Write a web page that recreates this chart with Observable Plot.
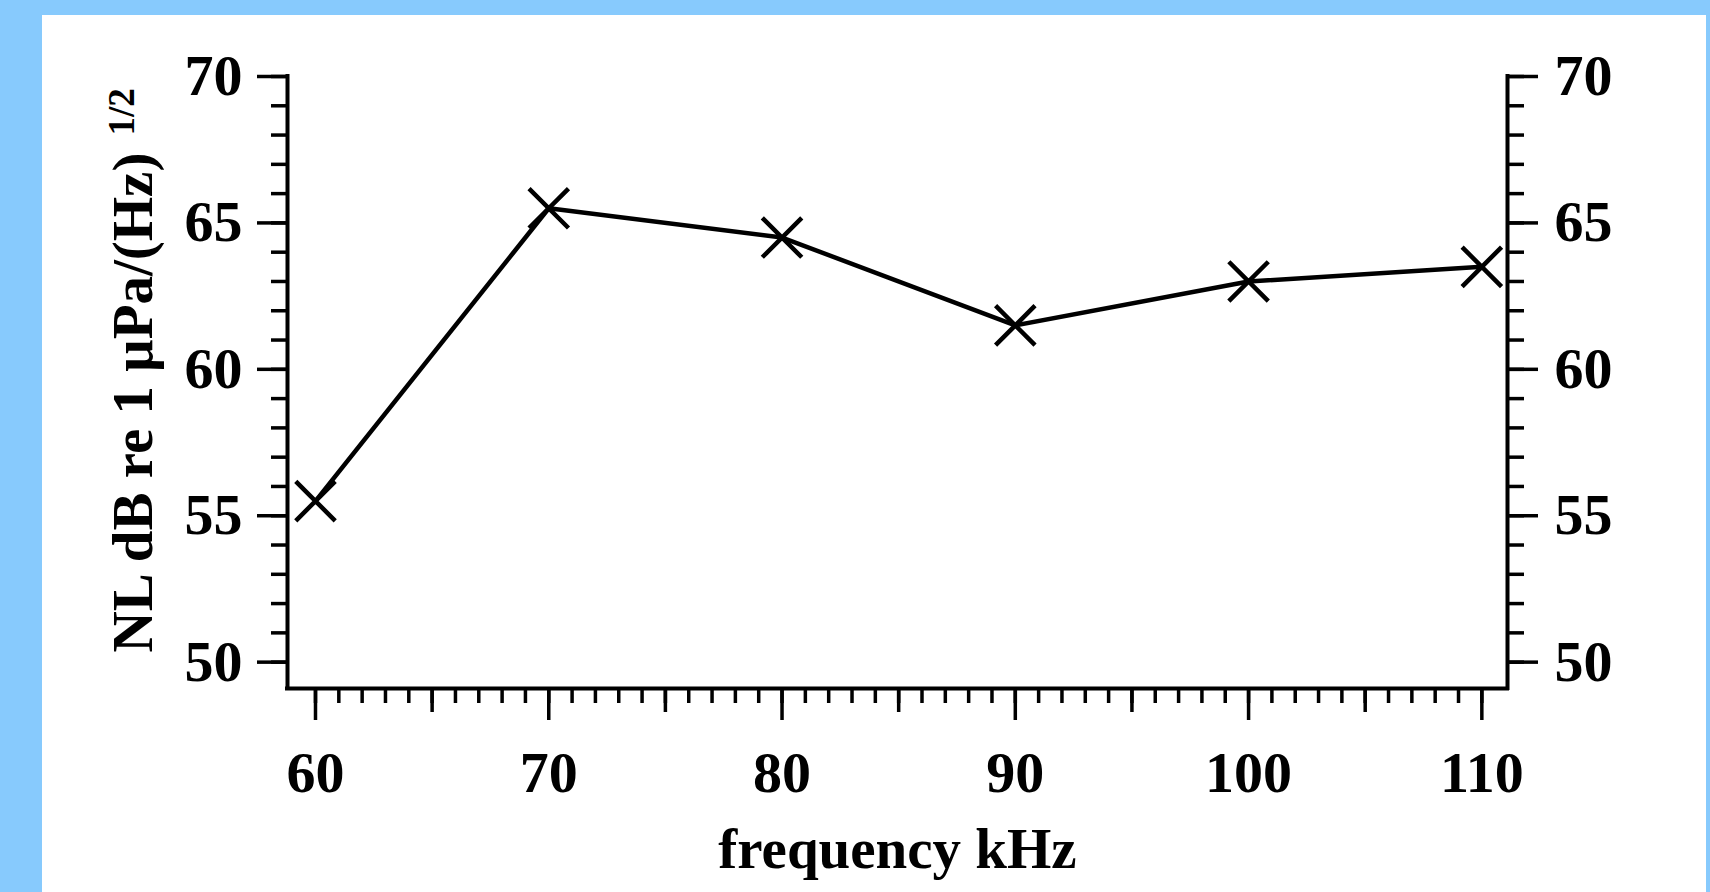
<!DOCTYPE html>
<html>
<head>
<meta charset="utf-8">
<script src="https://cdn.jsdelivr.net/npm/d3@7"></script>
<script src="https://cdn.jsdelivr.net/npm/@observablehq/plot@0.6"></script>
<style>
html, body { margin: 0; padding: 0; background: #87CAFD; overflow: hidden; width: 1710px; height: 892px; }
#panel { position: absolute; left: 42px; top: 15px; width: 1664px; height: 877px; background: #ffffff; }
</style>
</head>
<body>
<div id="panel"></div>
<script>
// ---- data ----
const frequencies = [60, 70, 80, 90, 100, 110];          // kHz
const noiseLevels = [55.5, 65.5, 64.5, 61.5, 63.0, 63.5]; // dB
const xMajorTicks = [60, 70, 80, 90, 100, 110];
const xMediumTicks = [65, 75, 85, 95, 105];
const xMinorTicks = d3.range(60, 111, 1);
const yMajorTicks = [50, 55, 60, 65, 70];
const yMinorTicks = d3.range(50, 71, 1);
const xDomain = [58.8, 111.1];
const yDomain = [49.1, 70];
const xTitle = "frequency kHz";
const yTitle = "NL dB re 1 \u03bcPa/(Hz)";
const ySuper = "1/2";

const font = '"Liberation Serif", "Times New Roman", Times, serif';
const blank = () => "";

const chart = Plot.plot({
  width: 1664,
  height: 877,
  marginLeft: 245,
  marginRight: 199,
  marginTop: 61,
  marginBottom: 204,
  style: { fontFamily: font, fontSize: "57px", fontWeight: "bold", color: "#000", background: "transparent", overflow: "visible" },
  x: { domain: xDomain },
  y: { domain: yDomain },
  marks: [
    Plot.axisX(xMinorTicks, { anchor: "bottom", tickSize: 15, strokeWidth: 3.5, tickFormat: blank, label: null }),
    Plot.axisX(xMediumTicks, { anchor: "bottom", tickSize: 24, strokeWidth: 3.5, tickFormat: blank, label: null }),
    Plot.axisX(xMajorTicks, { anchor: "bottom", tickSize: 32, tickPadding: 30, strokeWidth: 3.5, label: null, fontSize: 58, fontWeight: "bold" }),
    Plot.axisY(yMinorTicks, { anchor: "left", tickSize: 16, strokeWidth: 3.5, tickFormat: blank, label: null }),
    Plot.axisY(yMajorTicks, { anchor: "left", tickSize: 30, tickPadding: 15, strokeWidth: 3.5, label: null, fontSize: 58, fontWeight: "bold" }),
    Plot.axisY(yMinorTicks, { anchor: "right", tickSize: 16, strokeWidth: 3.5, tickFormat: blank, label: null }),
    Plot.axisY(yMajorTicks, { anchor: "right", tickSize: 30, tickPadding: 17, strokeWidth: 3.5, label: null, fontSize: 58, fontWeight: "bold" }),
    Plot.ruleX(xDomain, { stroke: "#000", strokeWidth: 4, strokeLinecap: "square" }),
    Plot.ruleY([yDomain[0]], { stroke: "#000", strokeWidth: 4, strokeLinecap: "square" }),
    Plot.line(noiseLevels, { x: frequencies, y: noiseLevels, stroke: "#000", strokeWidth: 4.5 }),
    Plot.dot(noiseLevels, { x: frequencies, y: noiseLevels, symbol: "times", r: 18, stroke: "#000", strokeWidth: 4.5 }),
    Plot.text([yTitle], { frameAnchor: "bottom-left", rotate: -90, textAnchor: "start", dx: -135.5, dy: -36, fontSize: 57, fontWeight: "bold", fill: "#000" }),
    Plot.text([xTitle], { frameAnchor: "bottom", lineAnchor: "bottom", dy: 179, fontSize: 57, fontWeight: "bold", fill: "#000" })
  ]
});

document.getElementById("panel").appendChild(chart);

// superscript "1/2" on the y title
d3.select(chart).selectAll("text")
  .filter(function () { return this.textContent === yTitle; })
  .append("tspan")
  .attr("dx", 17)
  .attr("dy", -18)
  .attr("font-size", 37)
  .text(ySuper);
</script>
</body>
</html>
